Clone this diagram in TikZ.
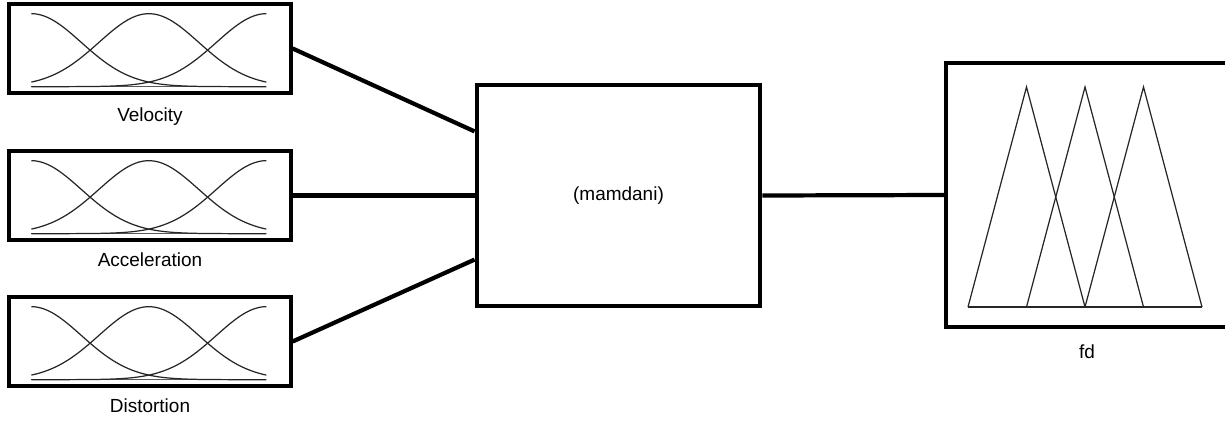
\documentclass[tikz,border=0pt]{standalone}
\usepackage{fontspec}
\setmainfont{Liberation Sans}
\usetikzlibrary{positioning,calc}

\tikzset{
  mfbox/.style={draw, line width=1.9pt, minimum width=5.64cm, minimum height=1.78cm, inner sep=0pt},
  lbl/.style={font=\fontsize{10.8}{13}\selectfont, inner sep=0pt},
  link/.style={line width=2.4pt},
  mf/.style={line width=0.7pt, black!85},
}

\begin{document}
\begin{tikzpicture}[x=0.02cm, y=-0.02cm]
    \useasboundingbox (0,0) rectangle (1225,420);
    \clip (0,0) rectangle (1225,420);

    % Input boxes
    \node[mfbox] (vel) at (150,48.5) {};
    \node[mfbox] (acc) at (150,195.5) {};
    \node[mfbox] (dis) at (150,341.5) {};
    \node[lbl, below=0.25cm of vel] (vellbl) {Velocity};
    \node[lbl, below=0.22cm of acc] (acclbl) {Acceleration};
    \node[lbl, below=0.22cm of dis] (dislbl) {Distortion};

    % Rule box
    \node[draw, line width=2.8pt, lbl, minimum width=5.66cm, minimum height=4.42cm] (mam) at (618.5,195.5) {(mamdani)};

    % Output box
    \node[draw, line width=2.3pt, minimum width=5.64cm, minimum height=5.28cm] (fd) at (1087,195) {};
    \node[lbl, below=0.3cm of fd] (fdlbl) {fd};

    % Membership functions
    \foreach \b in {vel,acc,dis} {
      \begin{scope}[shift={($(\b.south west)+(24,-8)$)}]
        \draw[mf, black!65] (0,0) -- (235,0);
        \draw[mf] plot[domain=0:235, samples=60, smooth] (\x, {-73*exp(-0.5*((\x)/49.9)^2)});
        \draw[mf] plot[domain=0:235, samples=60, smooth] (\x, {-73*exp(-0.5*((\x-117.5)/49.9)^2)});
        \draw[mf] plot[domain=0:235, samples=60, smooth] (\x, {-73*exp(-0.5*((\x-235)/49.9)^2)});
      \end{scope}
    }

    \begin{scope}[shift={($(fd.south west)+(24,-22)$)}]
      \draw[mf] (0,0) -- (234,0);
      \foreach \i in {0,1,2}
        \draw[mf] (\i*58.5,0) -- (\i*58.5+58.5,-220) -- (\i*58.5+117,0);
    \end{scope}

    % Connectors
    \draw[link] (vel.east) -- (mam.156);
    \draw[link] (acc.east) -- (mam.west);
    \draw[link] (dis.east) -- (mam.204);
    \draw[link] (mam.east) -- (fd.west);
\end{tikzpicture}
\end{document}
